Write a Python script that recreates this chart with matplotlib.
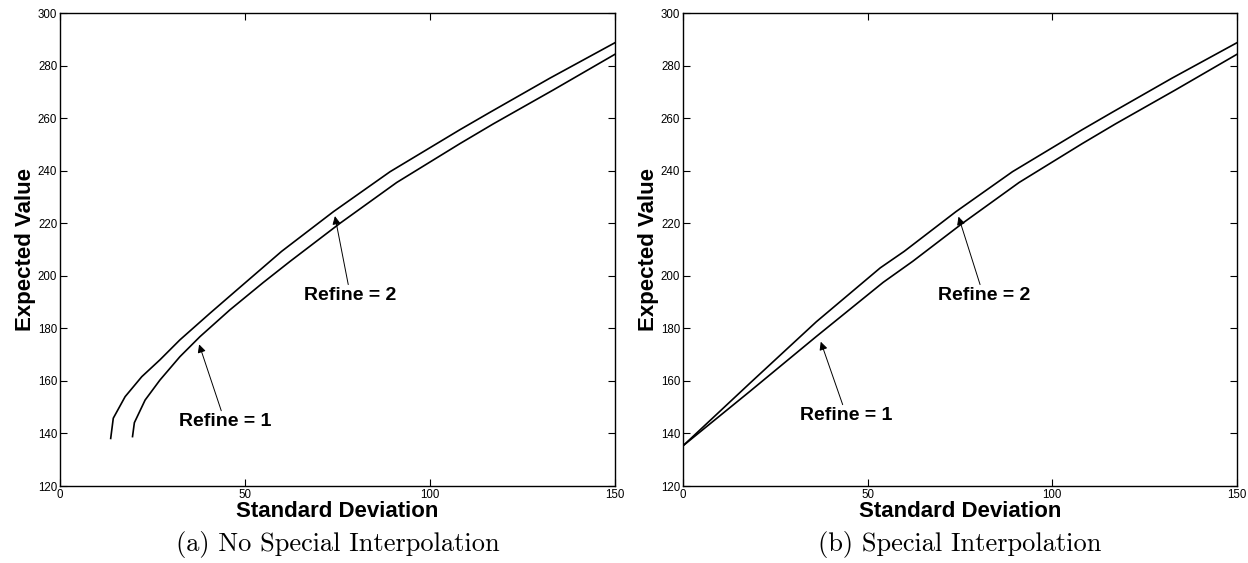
import numpy as np
import matplotlib.pyplot as plt

# (a) no special interpolation
std_a_r2 = [13.7, 14.4, 17.6, 22.1, 27.0, 32.4, 40.5, 47.8, 59.9, 73.9, 89.2, 108.1, 116.2, 132.4, 150.0]
ev_a_r2 = [138.1, 145.8, 154.0, 161.6, 168.0, 175.6, 185.7, 194.6, 209.3, 224.4, 239.6, 255.6, 262.2, 275.2, 288.7]
std_a_r1 = [19.6, 20.1, 23.0, 27.0, 32.4, 37.8, 45.9, 54.9, 62.2, 75.7, 91.0, 108.1, 117.1, 133.3, 150.0]
ev_a_r1 = [138.8, 144.1, 152.7, 160.3, 169.2, 176.8, 187.0, 197.4, 205.5, 220.0, 235.5, 250.3, 257.8, 270.7, 284.3]

# (b) special interpolation
std_b_r2 = [0.0, 18.1, 36.1, 53.4, 59.9, 73.9, 89.2, 108.1, 116.2, 132.4, 150.0]
ev_b_r2 = [135.3, 159.1, 182.5, 203.0, 209.3, 224.4, 239.6, 255.6, 262.2, 275.2, 288.7]
std_b_r1 = [0.0, 18.1, 36.1, 54.2, 62.2, 75.7, 91.0, 108.1, 117.1, 133.3, 150.0]
ev_b_r1 = [135.3, 156.0, 176.9, 197.5, 205.5, 220.0, 235.5, 250.3, 257.8, 270.7, 284.3]

# annotation (tip, text) positions in data units
notes_a = [("Refine = 1", (37.6, 173.9), (44.6, 147.6)),
           ("Refine = 2", (74.3, 222.7), (78.5, 195.6))]
notes_b = [("Refine = 1", (37.3, 174.9), (44.3, 149.9)),
           ("Refine = 2", (74.6, 222.5), (81.4, 195.6))]

captions = ["(a) No Special Interpolation", "(b) Special Interpolation"]

plt.rcParams['font.family'] = ['Liberation Sans', 'DejaVu Sans']

fig = plt.figure(figsize=(12.48, 5.63), dpi=100)
ax1 = fig.add_axes([60 / 1248, 77 / 563, 555 / 1248, 473 / 563])
ax2 = fig.add_axes([683 / 1248, 77 / 563, 554 / 1248, 473 / 563])


def style_axis(ax):
    ax.set_xlim(0, 150)
    ax.set_ylim(120, 300)
    ax.set_xticks([0, 50, 100, 150])
    ax.set_yticks(np.arange(120, 301, 20))
    ax.tick_params(direction='in', top=True, right=True, labelsize=8.3,
                   length=5, width=0.8, pad=2)
    for sp in ax.spines.values():
        sp.set_linewidth(1.0)
    ax.set_xlabel("Standard Deviation", fontsize=16, fontweight='bold', labelpad=0)
    ax.set_ylabel("Expected Value", fontsize=16, fontweight='bold', labelpad=1)


for ax, curves, notes, cap in [
        (ax1, [(std_a_r2, ev_a_r2), (std_a_r1, ev_a_r1)], notes_a, captions[0]),
        (ax2, [(std_b_r2, ev_b_r2), (std_b_r1, ev_b_r1)], notes_b, captions[1])]:
    for xs, ys in curves:
        ax.plot(xs, ys, color='black', linewidth=1.2)
    style_axis(ax)
    for label, tip, txt in notes:
        ax.annotate(label, xy=tip, xytext=txt, ha='center', va='top',
                    fontsize=14, fontweight='bold',
                    arrowprops=dict(arrowstyle='-|>', color='black', lw=0.7,
                                    mutation_scale=12, shrinkA=0, shrinkB=0))
    pos = ax.get_position()
    fig.text((pos.x0 + pos.x1) / 2, 19 / 563, cap, ha='center', va='center',
             fontsize=19, family='cmr10')

fig.savefig("out.png", dpi=100)
